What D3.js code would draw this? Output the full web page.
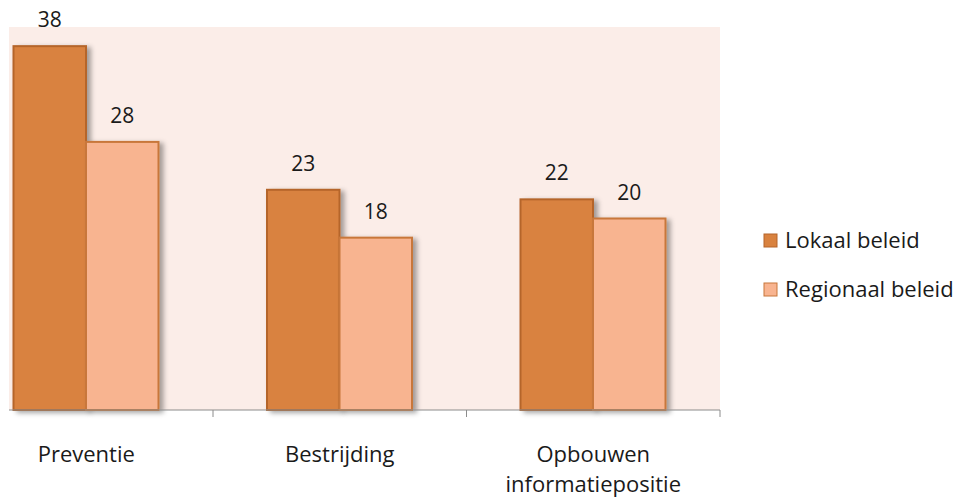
<!DOCTYPE html>
<html>
<head>
<meta charset="utf-8">
<script src="https://cdn.jsdelivr.net/npm/d3@7"></script>
<style>
body { margin: 0; background: white; }
text { font-family: "Open Sans", Lato, sans-serif; fill: #1a1a1a; }
</style>
</head>
<body>
<script>
var categories = ["Preventie", "Bestrijding", "Opbouwen informatiepositie"];
var seriesNames = ["Lokaal beleid", "Regionaal beleid"];
var lokaal = [38, 23, 22];
var regionaal = [28, 18, 20];

var width = 964, height = 497;
var colors = ["#d9823f", "#f8b490"];
var strokes = ["#b5652a", "#c8773a"];

var svg = d3.select("body").append("svg").attr("width", width).attr("height", height);

var defs = svg.append("defs");
var f = defs.append("filter").attr("id", "shadow").attr("x", "-10%").attr("y", "-10%").attr("width", "140%").attr("height", "130%");
f.append("feDropShadow").attr("dx", 4).attr("dy", 2).attr("stdDeviation", 2.5).attr("flood-color", "#000").attr("flood-opacity", 0.35);

// chart is cut off on the left, first band starts outside the frame
var x0 = d3.scaleBand().domain(categories).range([-40.5, 720]).paddingInner(0).paddingOuter(0);
var x1 = d3.scaleBand().domain([0, 1]).range([54, 199]).padding(0);
var y = d3.scaleLinear().domain([0, 40]).range([410, 27]);

svg.append("rect").attr("x", 9).attr("y", 27).attr("width", 720 - 9).attr("height", 410 - 27).attr("fill", "#fbede8");

var data = categories.map(function(c, i) { return [lokaal[i], regionaal[i]]; });

var groups = svg.selectAll(".grp").data(data).enter().append("g")
  .attr("transform", function(d, i) { return "translate(" + x0(categories[i]) + ",0)"; });

groups.selectAll("rect").data(function(d) { return d; }).enter().append("rect")
  .attr("x", function(d, j) { return x1(j); })
  .attr("y", function(d) { return y(d); })
  .attr("width", x1.bandwidth())
  .attr("height", function(d) { return y(0) - y(d); })
  .attr("fill", function(d, j) { return colors[j]; })
  .attr("stroke", function(d, j) { return strokes[j]; })
  .attr("stroke-width", 2)
  .attr("filter", "url(#shadow)");

groups.selectAll(".val").data(function(d) { return d; }).enter().append("text")
  .attr("x", function(d, j) { return x1(j) + x1.bandwidth() / 2; })
  .attr("y", function(d) { return y(d) - 19; })
  .attr("text-anchor", "middle")
  .style("font-size", "21px")
  .text(function(d) { return d; });

// x axis
var axis = svg.append("g").attr("transform", "translate(0,410)");
axis.append("line").attr("x1", 9).attr("x2", 720).attr("stroke", "#8c8c8c").attr("stroke-width", 1);
var tickPos = categories.slice(1).map(function(c) { return x0(c); }).concat([720]);
axis.selectAll(".tk").data(tickPos).enter().append("line")
  .attr("x1", function(d) { return d; }).attr("x2", function(d) { return d; })
  .attr("y1", 0).attr("y2", 7).attr("stroke", "#8c8c8c");

var labels = [["Preventie"], ["Bestrijding"], ["Opbouwen", "informatiepositie"]];
categories.forEach(function(c, i) {
  var t = svg.append("text").attr("text-anchor", "middle")
    .attr("x", x0(c) + x0.bandwidth() / 2).attr("y", 462).style("font-size", "22px");
  labels[i].forEach(function(s, k) {
    t.append("tspan").attr("x", x0(c) + x0.bandwidth() / 2).attr("dy", k ? 30 : 0).text(s);
  });
});

// legend
var lg = svg.append("g").selectAll("g").data(seriesNames).enter().append("g")
  .attr("transform", function(d, i) { return "translate(764," + (234 + i * 49) + ")"; });
lg.append("rect").attr("width", 13).attr("height", 13)
  .attr("fill", function(d, i) { return colors[i]; })
  .attr("stroke", function(d, i) { return strokes[i]; }).attr("stroke-width", 1);
lg.append("text").attr("x", 21).attr("y", 14).style("font-size", "22px").text(function(d) { return d; });
</script>
</body>
</html>
